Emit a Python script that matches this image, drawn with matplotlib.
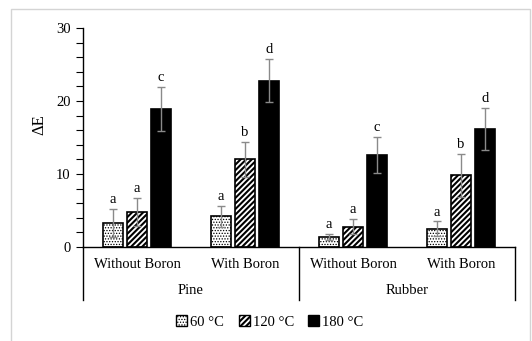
import matplotlib
matplotlib.use("Agg")
import matplotlib.pyplot as plt
import matplotlib.transforms as mtransforms
from matplotlib.patches import Patch, Rectangle
import numpy as np

# Sub-categories and main categories
treatments = ["Without Boron", "With Boron", "Without Boron", "With Boron"]
woods = ["Pine", "Rubber"]
series = ["60 °C", "120 °C", "180 °C"]

# Mean colour change (ΔE) per treatment, one list per temperature
de_60 = [3.3, 4.2, 1.4, 2.5]
de_120 = [4.8, 12.0, 2.8, 9.8]
de_180 = [18.9, 22.8, 12.6, 16.2]

# Standard deviations
sd_60 = [1.9, 1.4, 0.4, 1.0]
sd_120 = [1.9, 2.4, 1.0, 2.9]
sd_180 = [3.0, 2.9, 2.5, 2.9]

# Significance letters
let_60 = ["a", "a", "a", "a"]
let_120 = ["a", "b", "a", "b"]
let_180 = ["c", "d", "c", "d"]

yticks = [0, 10, 20, 30]

plt.rcParams["font.family"] = ["Liberation Serif", "DejaVu Serif"]
plt.rcParams["hatch.linewidth"] = 1.5

fig = plt.figure(figsize=(5.32, 3.41), dpi=100)
W, H = 532, 341
ax = fig.add_axes([83 / W, 1 - 247 / H, (515 - 83) / W, (247 - 28) / H])

# outer chart frame
fig.patches.append(Rectangle((11 / W, -0.1), (530 - 11) / W, 1.1 - 9 / H,
                             transform=fig.transFigure, fill=False,
                             edgecolor="#d4d4d4", lw=1.0))

x = np.arange(len(treatments))
width = 0.18
step = 0.222
styles = [
    dict(facecolor="white", hatch="......"),
    dict(facecolor="white", hatch="//////"),
    dict(facecolor="black", hatch=None),
]
hatch_lw = [0.6, 1.5, 1.5]
vals = [de_60, de_120, de_180]
sds = [sd_60, sd_120, sd_180]
lets = [let_60, let_120, let_180]


def thin_hatch(patch, lw):
    try:
        patch.set_hatch_linewidth(lw)
    except AttributeError:
        pass


for i, (v, s, l, st) in enumerate(zip(vals, sds, lets, styles)):
    pos = x + (i - 1) * step
    bars = ax.bar(pos, v, width, edgecolor="black", linewidth=1.2, zorder=2, **st)
    for b in bars:
        thin_hatch(b, hatch_lw[i])
    ax.errorbar(pos, v, yerr=s, fmt="none", ecolor="#8a8a8a", elinewidth=1.0,
                capsize=3, capthick=1.0, zorder=3)
    for px, vv, ss, ll in zip(pos, v, s, l):
        ax.text(px, vv + ss + 0.4, ll, ha="center", va="bottom", fontsize=10.5)

ax.set_xlim(-0.5, len(treatments) - 0.5)
ax.set_ylim(0, 30)
ax.set_yticks(yticks)
ax.set_yticks(np.arange(0, 31, 2), minor=True)
ax.tick_params(axis="y", which="both", direction="out", length=5, width=0.8,
               labelsize=10.5, pad=4)
ax.set_xticks([])
for side in ["top", "right"]:
    ax.spines[side].set_visible(False)
ax.spines["left"].set_linewidth(1.0)
ax.spines["bottom"].set_linewidth(1.0)
ax.set_ylabel("ΔE", fontsize=12)
ax.yaxis.set_label_coords((47 - 83) / (515 - 83), (247 - 124.5) / (247 - 28))

# two-level category axis
trans = mtransforms.blended_transform_factory(ax.transData, ax.transAxes)
ybot = -(300 - 247) / (247 - 28)
for sx in [-0.5, 1.5, 3.5]:
    ax.plot([sx, sx], [0, ybot], color="black", lw=1.0, transform=trans,
            clip_on=False)
y_sub = -(265 - 247) / (247 - 28)
y_main = -(291 - 247) / (247 - 28)
for xi, t in zip(x, treatments):
    ax.text(xi, y_sub, t, transform=trans, ha="center", va="center",
            fontsize=10.5)
for j, w in enumerate(woods):
    ax.text(2 * j + 0.5, y_main, w, transform=trans, ha="center", va="center",
            fontsize=10.5)

handles = [Patch(edgecolor="black", linewidth=1.0, label=lab, **st)
           for lab, st in zip(series, styles)]
leg = fig.legend(handles=handles, loc="center",
                 bbox_to_anchor=(270 / W, 1 - 322 / H),
                 ncol=3, frameon=False, fontsize=10.5, handlelength=0.75,
                 handleheight=0.75, handletextpad=0.2, columnspacing=1.0)
for h, lw in zip(leg.legend_handles, hatch_lw):
    thin_hatch(h, lw)

fig.savefig("out.png", dpi=100)
